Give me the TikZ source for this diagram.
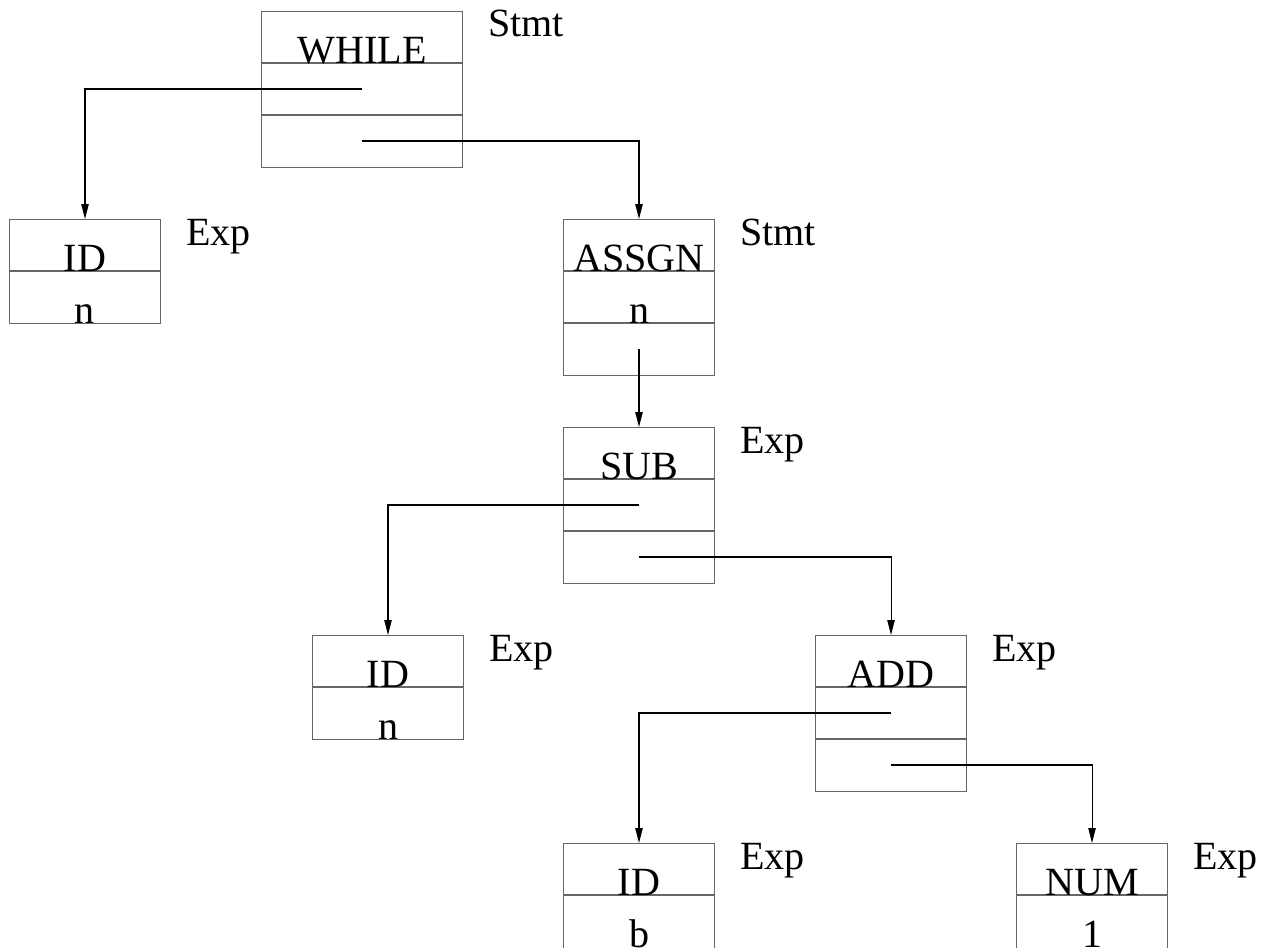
\documentclass[tikz,border=0pt]{standalone}
\usepackage{fontspec}
\setmainfont{Liberation Serif}
\usetikzlibrary{arrows.meta,calc}

\tikzset{
  rec/.style={draw=black!60, line width=0.6pt, inner sep=0pt, minimum width=3.02cm, anchor=north west},
  div/.style={draw=black!60, line width=0.6pt},
  txt/.style={anchor=base, inner sep=0pt, font=\fontsize{22.8}{27}\selectfont},
  kind/.style={anchor=base west, inner sep=0pt, font=\fontsize{22.8}{27}\selectfont},
  link/.style={-{Triangle[length=8.5pt,width=4.2pt]}, line width=0.6pt}
}

\begin{document}
\begin{tikzpicture}[x=0.02cm,y=-0.02cm]
  \useasboundingbox (0,0) rectangle (1263,947);
  % WHILE
  \node[rec, minimum width=4.02cm, minimum height=3.12cm] (while) at (261,11) {};
  \foreach \r in {1,2}{
    \draw[div] ($(while.north west)+(0,52*\r)$) -- ($(while.north east)+(0,52*\r)$);
  }
  \node[txt] (whilet) at ($(while.north)+(0,52)$) {WHILE};
  \node[kind] (whilek) at ($(while.north east)+(25,25)$) {Stmt};
  \coordinate (while2) at ($(while.north)+(0,78)$);
  \coordinate (while3) at ($(while.north)+(0,130)$);
  % ID n (left)
  \node[rec, minimum height=2.08cm] (id1) at (9,219) {};
  \draw[div] ($(id1.north west)+(0,52)$) -- ($(id1.north east)+(0,52)$);
  \node[txt] (id1t) at ($(id1.north)+(0,52)$) {ID};
  \node[txt] (id1v) at ($(id1.north)+(0,104)$) {n};
  \node[kind] (id1k) at ($(id1.north east)+(25,26)$) {Exp};
  % ASSGN
  \node[rec, minimum height=3.12cm] (assgn) at (563,219) {};
  \foreach \r in {1,2}{
    \draw[div] ($(assgn.north west)+(0,52*\r)$) -- ($(assgn.north east)+(0,52*\r)$);
  }
  \node[txt] (assgnt) at ($(assgn.north)+(0,52)$) {ASSGN};
  \node[txt] (assgnv) at ($(assgn.north)+(0,104)$) {n};
  \node[kind] (assgnk) at ($(assgn.north east)+(25,26)$) {Stmt};
  \coordinate (assgn3) at ($(assgn.north)+(0,130)$);
  % SUB
  \node[rec, minimum height=3.12cm] (sub) at (563,427) {};
  \foreach \r in {1,2}{
    \draw[div] ($(sub.north west)+(0,52*\r)$) -- ($(sub.north east)+(0,52*\r)$);
  }
  \node[txt] (subt) at ($(sub.north)+(0,52)$) {SUB};
  \node[kind] (subk) at ($(sub.north east)+(25,26)$) {Exp};
  \coordinate (sub2) at ($(sub.north)+(0,78)$);
  \coordinate (sub3) at ($(sub.north)+(0,130)$);
  % ID n (middle)
  \node[rec, minimum height=2.08cm] (id2) at (312,635) {};
  \draw[div] ($(id2.north west)+(0,52)$) -- ($(id2.north east)+(0,52)$);
  \node[txt] (id2t) at ($(id2.north)+(0,52)$) {ID};
  \node[txt] (id2v) at ($(id2.north)+(0,104)$) {n};
  \node[kind] (id2k) at ($(id2.north east)+(25,26)$) {Exp};
  % ADD
  \node[rec, minimum height=3.12cm] (add) at (815,635) {};
  \foreach \r in {1,2}{
    \draw[div] ($(add.north west)+(0,52*\r)$) -- ($(add.north east)+(0,52*\r)$);
  }
  \node[txt] (addt) at ($(add.north)+(0,52)$) {ADD};
  \node[kind] (addk) at ($(add.north east)+(25,26)$) {Exp};
  \coordinate (add2) at ($(add.north)+(0,78)$);
  \coordinate (add3) at ($(add.north)+(0,130)$);
  % ID b (bottom edge runs off the page)
  \node[rec, minimum height=2.16cm] (idb) at (563,843) {};
  \draw[div] ($(idb.north west)+(0,52)$) -- ($(idb.north east)+(0,52)$);
  \node[txt] (idbt) at ($(idb.north)+(0,52)$) {ID};
  \node[txt] (idbv) at ($(idb.north)+(0,104)$) {b};
  \node[kind] (idbk) at ($(idb.north east)+(25,26)$) {Exp};
  % NUM 1
  \node[rec, minimum height=2.16cm] (num) at (1016,843) {};
  \draw[div] ($(num.north west)+(0,52)$) -- ($(num.north east)+(0,52)$);
  \node[txt] (numt) at ($(num.north)+(0,52)$) {NUM};
  \node[txt] (numv) at ($(num.north)+(0,104)$) {1};
  \node[kind] (numk) at ($(num.north east)+(25,26)$) {Exp};
  % links
  \draw[link] (while2) -| (id1);
  \draw[link] (while3) -| (assgn);
  \draw[link] (assgn3) -- (sub);
  \draw[link] (sub2) -| (id2);
  \draw[link] (sub3) -| (add);
  \draw[link] (add2) -| (idb);
  \draw[link] (add3) -| (num);
\end{tikzpicture}
\end{document}
